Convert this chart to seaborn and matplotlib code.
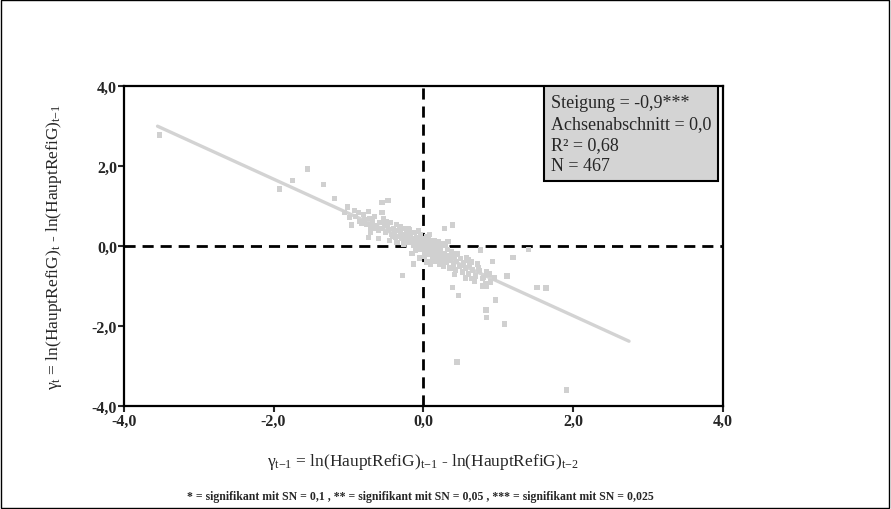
import numpy as np
import pandas as pd
import seaborn as sns
import matplotlib.pyplot as plt
from matplotlib.patches import Rectangle

# Werte (x = gamma t-1, y = gamma t)
x_sparse = [-3.52, -1.92, -1.75, -1.55, -1.33, -1.19, -1.01, -0.87, -0.73, -0.96,
            -0.55, -0.47, -0.73, -0.55, -0.99, -0.37, 0.28, 0.39, -0.28, -0.13,
            0.39, 0.47, 0.77, 0.93, 0.97, 0.84, 0.85, 1.09, 1.20, 1.41,
            1.12, 1.52, 1.64, 0.45, 1.91, 0.65, 0.65, 0.79, 0.85, 0.79, 0.85]
y_sparse = [2.78, 1.43, 1.65, 1.93, 1.55, 1.20, 0.98, 0.85, 0.87, 0.53,
            1.10, 1.15, 0.22, 0.85, 0.72, 0.22, 0.45, 0.53, -0.73, -0.45,
            -1.03, -1.23, -0.10, -0.38, -1.35, -1.60, -1.78, -1.95, -0.28, -0.08,
            -0.75, -1.03, -1.05, -2.90, -3.60, -0.40, -0.82, -0.82, -0.65, -1.00, -1.00]

x_dense = [-0.90, -0.85, -0.80, -0.78, -0.75, -0.72, -0.70, -0.68, -0.65, -0.63,
           -0.60, -0.58, -0.55, -0.53, -0.50, -0.48, -0.46, -0.44, -0.42, -0.40,
           -0.38, -0.36, -0.34, -0.32, -0.30, -0.29, -0.27, -0.25, -0.24, -0.22,
           -0.20, -0.19, -0.17, -0.16, -0.14, -0.13, -0.12, -0.10, -0.09, -0.08,
           -0.07, -0.05, -0.04, -0.03, -0.02, 0.00, 0.01, 0.02, 0.03, 0.04,
           0.05, 0.06, 0.07, 0.08, 0.09, 0.10, 0.11, 0.12, 0.13, 0.14,
           0.15, 0.16, 0.17, 0.18, 0.19, 0.20, 0.22, 0.23, 0.24, 0.25,
           0.26, 0.27, 0.28, 0.30, 0.31, 0.32, 0.34, 0.35, 0.36, 0.38,
           0.40, 0.41, 0.43, 0.44, 0.46, 0.48, 0.50, 0.52, 0.54, 0.56,
           0.58, 0.60, 0.62, 0.66, 0.70, 0.72, 0.75, 0.80, 0.88, 0.90,
           -0.15, 0.02, -0.05, 0.08, -0.20, 0.15, -0.35, 0.10, -0.60, 0.20,
           -0.10, 0.05, 0.33, -0.45,
           -1.05, -0.92, -0.82, -0.66, -0.52, -0.41, -0.31, -0.21, -0.11, -0.06,
           0.03, 0.12, 0.21, 0.29, 0.37, 0.45, 0.53, 0.61, 0.68, 0.74,
           -0.26, -0.18, 0.07, 0.17, 0.42, 0.57, -0.49, -0.70, 0.95, 0.83]
y_dense = [0.75, 0.62, 0.80, 0.66, 0.55, 0.70, 0.48, 0.62, 0.75, 0.52,
           0.40, 0.60, 0.45, 0.68, 0.35, 0.52, 0.42, 0.60, 0.30, 0.45,
           0.38, 0.55, 0.25, 0.40, 0.32, 0.18, 0.45, 0.28, 0.15, 0.35,
           0.22, 0.08, 0.30, 0.12, 0.20, 0.02, 0.35, 0.10, 0.22, -0.02,
           0.15, 0.05, 0.28, -0.08, 0.12, 0.02, 0.18, -0.10, 0.08, -0.02,
           0.25, -0.15, 0.05, -0.08, 0.12, -0.20, -0.02, -0.30, 0.08, -0.12,
           -0.25, 0.02, -0.38, -0.15, -0.05, -0.28, -0.45, -0.12, -0.22, -0.35,
           0.05, -0.50, -0.18, -0.30, -0.42, -0.08, -0.25, -0.55, -0.35, -0.15,
           -0.45, -0.28, -0.60, -0.38, -0.22, -0.50, -0.32, -0.65, -0.42, -0.55,
           -0.28, -0.70, -0.48, -0.60, -0.75, -0.45, -0.62, -0.78, -0.70, -0.90,
           -0.18, -0.25, -0.30, 0.30, 0.45, 0.15, 0.08, -0.45, 0.20, 0.10,
           -0.12, -0.40, 0.12, 0.15,
           0.85, 0.90, 0.58, 0.45, 0.58, 0.25, 0.48, 0.38, 0.05, 0.38,
           -0.22, 0.15, -0.08, 0.02, -0.55, -0.18, -0.48, -0.35, -0.88, -0.55,
           0.05, 0.42, 0.22, -0.05, -0.72, -0.80, 0.62, 0.35, -0.80, -0.95]

# Regressionsgerade (Endpunkte)
fit_x = [-3.55, 2.75]
fit_y = [3.00, -2.38]

ticks = [-4, -2, 0, 2, 4]
tick_labels = ['-4,0', '-2,0', '0,0', '2,0', '4,0']

stats_lines = ['Steigung = -0,9***', 'Achsenabschnitt = 0,0', 'R² = 0,68', 'N = 467']

df = pd.DataFrame({'x': x_sparse + x_dense, 'y': y_sparse + y_dense})
fit = pd.DataFrame({'x': fit_x, 'y': fit_y})

sns.set_style('ticks')
plt.rcParams['font.family'] = ['Liberation Serif', 'DejaVu Serif']
plt.rcParams['mathtext.fontset'] = 'custom'
plt.rcParams['mathtext.rm'] = 'Liberation Serif'
plt.rcParams['mathtext.it'] = 'Liberation Serif'

fig = plt.figure(figsize=(8.91, 5.10), dpi=100)
ax = fig.add_axes([0.139, 0.202, 0.672, 0.627])

# Nulllinien
ax.axhline(0, color='black', lw=2, ls=(0, (4, 2.5)), zorder=1)
ax.axvline(0, color='black', lw=2, ls=(0, (4, 2.5)), zorder=1)

sns.lineplot(data=fit, x='x', y='y', color='#d3d3d3', lw=2.4, ax=ax, zorder=2)
sns.scatterplot(data=df, x='x', y='y', marker='s', s=14, color='#d0d0d0',
                edgecolor='none', ax=ax, zorder=3)

ax.set_xlim(-4, 4)
ax.set_ylim(-4, 4)
ax.set_xticks(ticks)
ax.set_yticks(ticks)
ax.set_xticklabels(tick_labels, fontsize=11.5, fontweight='bold')
ax.set_yticklabels(tick_labels, fontsize=11.5, fontweight='bold')
ax.tick_params(length=4, width=1.5, pad=1, direction='out')
for s in ax.spines.values():
    s.set_linewidth(1.6)
    s.set_color('black')

ax.set_xlabel(r'$\gamma_{t\mathrm{-}1}$ = ln(HauptRefiG)$_{t\mathrm{-}1}$ - ln(HauptRefiG)$_{t\mathrm{-}2}$',
              fontsize=12.5, labelpad=16)
ax.set_ylabel(r'$\gamma_{t}$ = ln(HauptRefiG)$_{t}$ - ln(HauptRefiG)$_{t\mathrm{-}1}$',
              fontsize=12.5, labelpad=20)

# Statistik-Box
ax.add_patch(Rectangle((0.701, 0.703), 0.292, 0.297, transform=ax.transAxes,
                       facecolor='#d4d4d4', edgecolor='black', lw=1.5, zorder=4))
ax.text(0.713, 0.975, '\n'.join(stats_lines), transform=ax.transAxes,
        fontsize=13, va='top', ha='left', linespacing=1.3, zorder=5)

fig.text(0.472, 0.02,
         '* = signifikant mit SN = 0,1 , ** = signifikant mit SN = 0,05 , *** = signifikant mit SN = 0,025',
         ha='center', fontsize=8.5, fontweight='bold')

# Rahmen um die gesamte Grafik
fig.patches.append(Rectangle((0.001, 0.001), 0.997, 0.997, transform=fig.transFigure,
                             fill=False, edgecolor='black', lw=1))

plt.savefig('out.png', dpi=100)
